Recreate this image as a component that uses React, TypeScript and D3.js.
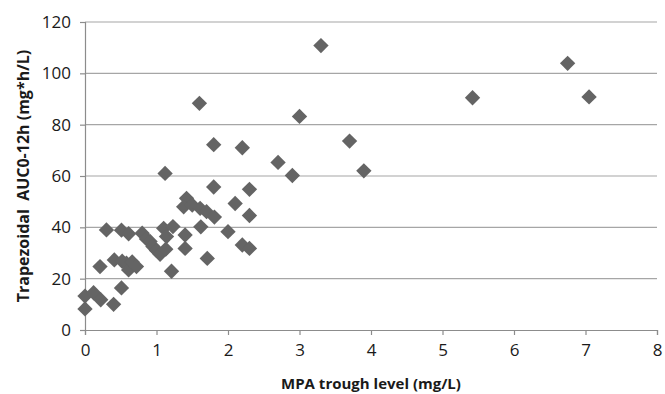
import { useRef, useEffect } from 'react';
import * as d3 from 'd3';

// MPA trough level (mg/L) vs trapezoidal AUC0-12h (mg*h/L)
const troughLevels = [
  0.0, 0.0, 0.12, 0.22, 0.21, 0.3, 0.4, 0.41, 0.51, 0.51, 0.52, 0.58, 0.61, 0.61, 0.66, 0.72,
  0.8, 0.86, 0.91, 0.95, 1.0, 1.05, 1.1, 1.12, 1.14, 1.13, 1.23, 1.21, 1.4, 1.4, 1.42, 1.38,
  1.5, 1.6, 1.61, 1.62, 1.7, 1.71, 1.8, 1.8, 1.81, 2.0, 2.1, 2.2, 2.2, 2.3, 2.3, 2.3,
  2.7, 2.9, 3.0, 3.3, 3.7, 3.9, 5.42, 6.75, 7.05,
];
const aucValues = [
  8.2, 13.2, 14.5, 11.8, 24.7, 39.0, 10.0, 27.3, 16.4, 38.9, 26.8, 26.0, 37.5, 23.4, 26.5, 24.7,
  37.7, 35.5, 34.5, 32.5, 31.0, 29.5, 39.6, 61.0, 36.4, 31.5, 40.3, 22.9, 37.0, 31.8, 51.3, 48.0,
  48.7, 88.3, 47.4, 40.2, 46.1, 27.9, 72.2, 55.7, 44.0, 38.3, 49.3, 71.0, 33.1, 54.8, 44.6, 31.8,
  65.3, 60.2, 83.2, 110.8, 73.6, 62.0, 90.5, 103.9, 90.8,
];
const xTicks = [0, 1, 2, 3, 4, 5, 6, 7, 8];
const yTicks = [0, 20, 40, 60, 80, 100, 120];

const width = 665;
const height = 394;
const font = "'Open Sans', 'Liberation Sans', sans-serif";

export default function App() {
  const svgRef = useRef<SVGSVGElement>(null);

  useEffect(() => {
    if (!svgRef.current) return;
    const svg = d3.select(svgRef.current);
    svg.selectAll('*').remove();

    const margin = { top: 22, right: 8, bottom: 64, left: 85 };
    const x = d3.scaleLinear().domain([0, 8]).range([margin.left, width - margin.right]);
    const y = d3.scaleLinear().domain([0, 120]).range([height - margin.bottom, margin.top]);

    // Gridlines
    svg.append('g')
      .selectAll('line')
      .data(yTicks.filter((d) => d > 0))
      .join('line')
      .attr('x1', x(0))
      .attr('x2', x(8))
      .attr('y1', (d) => y(d))
      .attr('y2', (d) => y(d))
      .attr('stroke', '#a6a6a6')
      .attr('stroke-width', 1.2);

    // Y axis
    const yAxis = svg.append('g').attr('transform', `translate(${x(0)},0)`)
      .call(d3.axisLeft(y).tickValues(yTicks).tickSize(5).tickPadding(9));
    yAxis.select('.domain').attr('stroke', '#8c8c8c').attr('stroke-width', 1.2);
    yAxis.selectAll('.tick line').attr('stroke', '#8c8c8c').attr('stroke-width', 1.2);
    yAxis.selectAll('.tick text')
      .attr('font-family', font)
      .attr('font-size', 17)
      .attr('fill', '#1a1a1a');

    // X axis
    const xAxis = svg.append('g').attr('transform', `translate(0,${y(0)})`)
      .call(d3.axisBottom(x).tickValues(xTicks).tickSize(5).tickPadding(9).tickFormat(d3.format('d')));
    xAxis.select('.domain').attr('stroke', '#8c8c8c').attr('stroke-width', 1.2);
    xAxis.selectAll('.tick line').attr('stroke', '#8c8c8c').attr('stroke-width', 1.2);
    xAxis.selectAll('.tick text')
      .attr('font-family', font)
      .attr('font-size', 17)
      .attr('fill', '#1a1a1a');

    // Diamond markers
    const diamond = d3.symbol().type(d3.symbolDiamond2).size(150);
    svg.append('g')
      .selectAll('path')
      .data(troughLevels.map((t, i) => ({ t, auc: aucValues[i] })))
      .join('path')
      .attr('d', diamond)
      .attr('transform', (d) => `translate(${x(d.t)},${y(d.auc)})`)
      .attr('fill', '#646464');

    // Axis titles
    svg.append('text')
      .attr('x', (x(0) + x(8)) / 2)
      .attr('y', 389)
      .attr('text-anchor', 'middle')
      .attr('font-family', font)
      .attr('font-size', 15)
      .attr('font-weight', 'bold')
      .attr('fill', '#1a1a1a')
      .text('MPA trough level (mg/L)');

    svg.append('text')
      .attr('transform', `translate(29,${(y(0) + y(120)) / 2}) rotate(-90)`)
      .attr('text-anchor', 'middle')
      .attr('font-family', font)
      .attr('font-size', 16)
      .attr('font-weight', 'bold')
      .attr('fill', '#1a1a1a')
      .text('Trapezoidal  AUC0-12h (mg*h/L)')
      .style('white-space', 'pre');
  }, []);

  return (
    <svg
      ref={svgRef}
      width={width}
      height={height}
      style={{ position: 'absolute', left: 0, top: 0, background: '#fff' }}
    />
  );
}
